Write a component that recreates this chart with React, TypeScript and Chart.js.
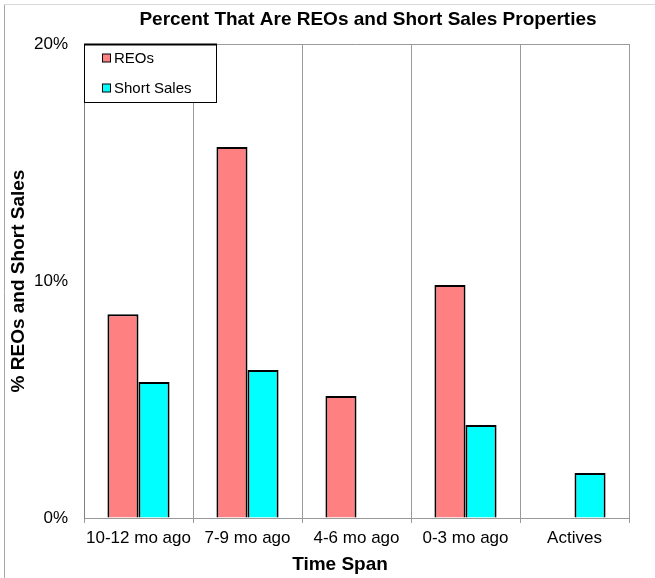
import React, { useEffect, useRef } from "react";
import { Chart, registerables } from "chart.js";

Chart.register(...registerables);

const categories = ["10-12 mo ago", "7-9 mo ago", "4-6 mo ago", "0-3 mo ago", "Actives"];
const reoValues = [8.6, 15.65, 5.15, 9.83, 0];
const shortSaleValues = [5.74, 6.24, 0, 3.92, 1.9];
const seriesNames = ["REOs", "Short Sales"];
const seriesColors = ["#FF8080", "#00FFFF"];
const yTicks = [0, 10, 20];
const chartTitle = "Percent That Are REOs and Short Sales Properties";
const xTitle = "Time Span";
const yTitle = "% REOs and Short Sales";

const FONT = "'Liberation Sans', Arial, sans-serif";

const decorPlugin = {
  id: "decor",
  beforeDraw(chart: any) {
    const ctx = chart.ctx;
    ctx.save();
    ctx.fillStyle = "#ffffff";
    ctx.fillRect(0, 0, chart.width, chart.height);
    ctx.lineWidth = 1;
    ctx.strokeStyle = "#a6a6a6";
    ctx.beginPath();
    ctx.moveTo(4.5, chart.height);
    ctx.lineTo(4.5, 4.5);
    ctx.stroke();
    ctx.strokeStyle = "#d9d9d9";
    ctx.beginPath();
    ctx.moveTo(4.5, 4.5);
    ctx.lineTo(chart.width, 4.5);
    ctx.stroke();
    ctx.restore();
  },
  afterDraw(chart: any) {
    const ctx = chart.ctx;
    const area = chart.chartArea;
    ctx.save();
    ctx.strokeStyle = "#9a9a9a";
    ctx.lineWidth = 1;
    ctx.beginPath();
    ctx.moveTo(Math.round(area.left), Math.round(area.top) + 0.5);
    ctx.lineTo(Math.round(area.right), Math.round(area.top) + 0.5);
    ctx.stroke();

    ctx.fillStyle = "#000";
    ctx.textAlign = "center";
    ctx.textBaseline = "middle";
    ctx.font = `bold 19px ${FONT}`;
    ctx.fillText(chartTitle, 368, 20);

    ctx.font = `bold 19px ${FONT}`;
    ctx.fillText(xTitle, 340, 565);

    ctx.save();
    ctx.translate(19, (area.top + area.bottom) / 2);
    ctx.rotate(-Math.PI / 2);
    ctx.font = `bold 19px ${FONT}`;
    ctx.fillText(yTitle, 0, 0);
    ctx.restore();

    const lx = Math.round(area.left) + 0.5;
    const ly = Math.round(area.top) + 0.5;
    const lw = 132;
    const lh = 58;
    ctx.fillStyle = "#ffffff";
    ctx.fillRect(lx, ly, lw, lh);
    ctx.strokeStyle = "#000";
    ctx.lineWidth = 1;
    ctx.strokeRect(lx, ly, lw, lh);
    ctx.lineWidth = 2;
    ctx.beginPath();
    ctx.moveTo(lx - 0.5, ly);
    ctx.lineTo(lx + lw + 0.5, ly);
    ctx.stroke();

    ctx.font = `15px ${FONT}`;
    ctx.textAlign = "left";
    ctx.textBaseline = "middle";
    chart.data.datasets.forEach((ds: any, i: number) => {
      const cy = 58 + i * 30;
      ctx.fillStyle = ds.backgroundColor;
      ctx.fillRect(102.5, cy - 4, 8, 8);
      ctx.strokeStyle = "#000";
      ctx.lineWidth = 1;
      ctx.strokeRect(102.5, cy - 4, 8, 8);
      ctx.fillStyle = "#000";
      ctx.fillText(ds.label, 114, cy + 1);
    });
    ctx.restore();
  },
};

export default function App() {
  const ref = useRef<HTMLCanvasElement | null>(null);

  useEffect(() => {
    document.body.style.margin = "0";
    if (!ref.current) return;
    const chart = new Chart(ref.current, {
      type: "bar",
      data: {
        labels: categories,
        datasets: [
          {
            label: seriesNames[0],
            data: reoValues,
            backgroundColor: seriesColors[0],
            borderColor: "#000",
            borderWidth: 2,
            categoryPercentage: 0.57,
            barPercentage: 1,
          },
          {
            label: seriesNames[1],
            data: shortSaleValues,
            backgroundColor: seriesColors[1],
            borderColor: "#000",
            borderWidth: 2,
            categoryPercentage: 0.57,
            barPercentage: 1,
          },
        ],
      },
      options: {
        responsive: false,
        animation: false,
        devicePixelRatio: 1,
        layout: { padding: { top: 44, right: 26, left: 0, bottom: 0 } },
        plugins: {
          legend: { display: false },
          title: { display: false },
          tooltip: { enabled: false },
        },
        scales: {
          x: {
            offset: true,
            grid: {
              offset: true,
              display: true,
              drawOnChartArea: true,
              drawTicks: true,
              tickLength: 5,
              color: "#9a9a9a",
              lineWidth: 1,
            },
            border: { display: true, color: "#9a9a9a", width: 1 },
            ticks: {
              color: "#000",
              font: { family: FONT, size: 17 },
              padding: 5,
              maxRotation: 0,
              autoSkip: false,
            },
            afterFit: (s: any) => {
              s.height = 60;
            },
          },
          y: {
            min: 0,
            max: 20,
            afterBuildTicks: (s: any) => {
              s.ticks = yTicks.map((v) => ({ value: v }));
            },
            grid: { display: true, drawOnChartArea: false, drawTicks: false },
            border: { display: true, color: "#7f7f7f", width: 1 },
            ticks: {
              color: "#000",
              font: { family: FONT, size: 17 },
              padding: 16,
              callback: (v: any) => `${v}%`,
            },
            afterFit: (s: any) => {
              s.width = 84;
            },
          },
        },
      },
      plugins: [decorPlugin],
    });
    return () => chart.destroy();
  }, []);

  return (
    <div style={{ width: 655, height: 578, position: "relative" }}>
      <canvas ref={ref} width={655} height={578} style={{ display: "block" }} />
    </div>
  );
}
